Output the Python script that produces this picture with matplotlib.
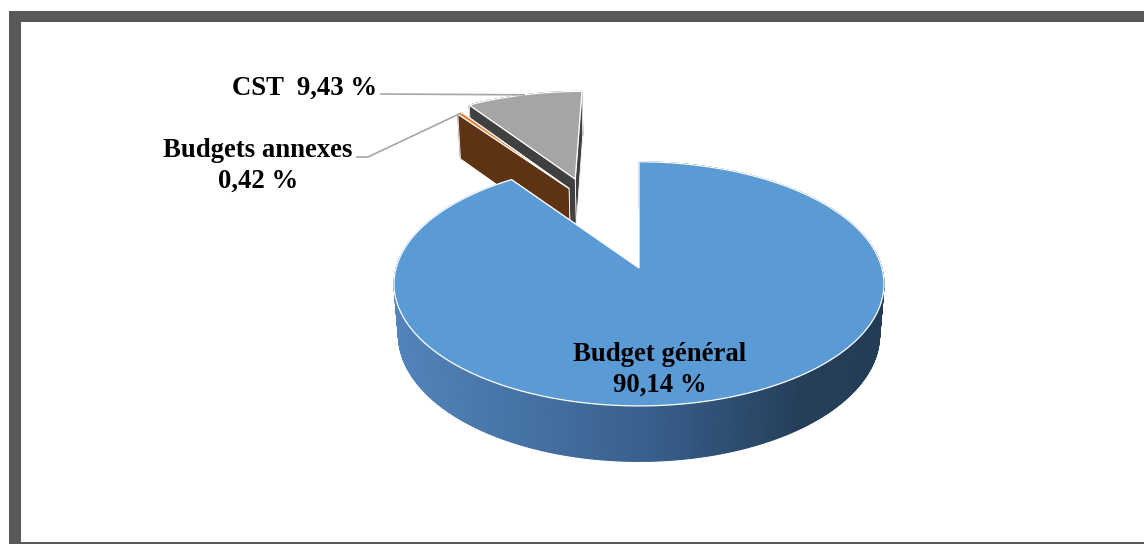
import numpy as np
import matplotlib
matplotlib.use("Agg")
import matplotlib.pyplot as plt
from matplotlib.patches import Polygon, Rectangle

# data
labels = ["Budget général", "Budgets annexes", "CST"]
values = [90.14, 0.42, 9.43]
top_colors = ["#5B9BD5", "#ED7D31", "#A5A5A5"]
wall_colors = ["#1F3852", "#5E3314", "#404040"]
explode = [0.0, 0.79, 0.87]
explode_angle = [0.0, 336.5, 340.5]

# 3d view (pixels)
CX, CY = 639, 268
F, D = 1625.0, 6.69
TILT = np.radians(29.6)
H = 0.245
S, C = np.sin(TILT), np.cos(TILT)


def project(X, Y, Z):
    yv = Y * S + Z * C
    zv = Y * C - Z * S
    w = D + zv
    return CX + F * X / w, CY - F * yv / w, zv


def fmt(v):
    return f"{v:.2f}".replace(".", ",") + " %"


def side_color(px):
    # light blue on the left, dark navy on the right
    stops_x = [396, 520, 650, 800, 890]
    stops_c = [(82, 131, 186), (70, 115, 165), (56, 95, 140), (37, 63, 90), (35, 60, 86)]
    rgb = [np.interp(px, stops_x, [c[i] for c in stops_c]) / 255 for i in range(3)]
    return tuple(rgb)


fig = plt.figure(figsize=(11.44, 5.44), dpi=100)
ax = fig.add_axes([0, 0, 1, 1])
ax.set_xlim(0, 1144)
ax.set_ylim(544, 0)
ax.axis("off")

# frame (grey border, right side runs off the picture)
frame = "#595959"
ax.add_patch(Rectangle((9, 11), 1140, 11, facecolor=frame, edgecolor="none", zorder=0))
ax.add_patch(Rectangle((9, 11), 12, 540, facecolor=frame, edgecolor="none", zorder=0))
ax.add_patch(Rectangle((9, 541.5), 1140, 10, facecolor=frame, edgecolor="none", zorder=0))

total = sum(values)
starts = np.cumsum([0] + values[:-1]) / total * 360
ends = np.cumsum(values) / total * 360

slices = []
for i in range(len(values)):
    a = np.radians(explode_angle[i])
    ox, oy = explode[i] * np.sin(a), explode[i] * np.cos(a)
    n = max(3, int((ends[i] - starts[i]) * 1.5))
    th = np.radians(np.linspace(starts[i], ends[i], n))
    slices.append((i, ox, oy, th))

# farthest slice first
slices.sort(key=lambda t: -project(t[1], t[2], 0)[2])

z = 1
mid_points = {}
for i, ox, oy, th in slices:
    X = ox + np.sin(th)
    Y = oy + np.cos(th)
    tx, ty, tz = project(X, Y, 0)
    bx, by, bz = project(X, Y, -H)
    ax0, ay0, _ = project(ox, oy, 0)
    ax1, ay1, _ = project(ox, oy, -H)

    polys = []
    for k in range(len(th) - 1):
        quad = [(tx[k], ty[k]), (tx[k + 1], ty[k + 1]), (bx[k + 1], by[k + 1]), (bx[k], by[k])]
        depth = (tz[k] + tz[k + 1]) / 2
        col = side_color((tx[k] + tx[k + 1]) / 2) if i == 0 else wall_colors[i]
        polys.append((depth, quad, col, col, 0.8))
    for k in (0, -1):
        quad = [(ax0, ay0), (tx[k], ty[k]), (bx[k], by[k]), (ax1, ay1)]
        depth = tz[k] / 2
        polys.append((depth, quad, wall_colors[i], "white", 0.6))
    polys.sort(key=lambda p: -p[0])
    for depth, quad, fc, ec, lw in polys:
        ax.add_patch(Polygon(quad, closed=True, facecolor=fc, edgecolor=ec,
                             linewidth=lw, zorder=z))
        z += 1

    top = [(ax0, ay0)] + list(zip(tx, ty))
    ax.add_patch(Polygon(top, closed=True, facecolor=top_colors[i], edgecolor="white",
                         linewidth=0.9, zorder=z))
    z += 1

    m = np.radians((starts[i] + ends[i]) / 2)
    mx, my, _ = project(ox + np.sin(m), oy + np.cos(m), 0)
    mid_points[i] = (mx, my)

font = dict(family="Liberation Serif", fontweight="bold", fontsize=19.3, color="black")

# labels
ax.text(660, 370, f"{labels[0]}\n{fmt(values[0])}", ha="center", va="center",
        linespacing=1.3, zorder=z + 2, **font)
ax.text(258, 166, f"{labels[1]}\n{fmt(values[1])}", ha="center", va="center",
        linespacing=1.3, zorder=z + 2, **font)
ax.text(377, 88, f"{labels[2]}  {fmt(values[2])}", ha="right", va="center",
        zorder=z + 2, **font)

# leader lines
mx, my = mid_points[2]
ax.plot([381, mx], [94, my], color="#A6A6A6", lw=1.2, zorder=z + 1)
mx, my = mid_points[1]
ax.plot([357, 368, mx], [157, 157, my], color="#A6A6A6", lw=1.2, zorder=z + 1)

fig.savefig("out.png", dpi=100)
